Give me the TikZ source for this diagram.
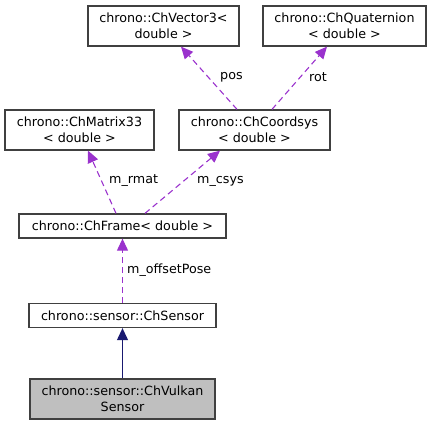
\documentclass[tikz,border=0pt]{standalone}
\usepackage{fontspec}
\setmainfont{DejaVu Sans}
\usetikzlibrary{arrows.meta}
\definecolor{member}{RGB}{154, 50, 205}
\definecolor{base}{RGB}{25, 25, 112}
\definecolor{shade}{RGB}{191, 191, 191}
\definecolor{frame}{RGB}{64, 64, 64}

\begin{document}
\begin{tikzpicture}[x=1pt, y=-1pt, font=\fontsize{12.7}{15.5}\selectfont,
    box/.style={draw=frame, line width=1.3pt, fill=white, align=center, inner sep=0pt, minimum height=40pt},
    onebox/.style={box, minimum height=24pt},
    uses/.style={member, line width=1.1pt, dash pattern=on 6pt off 4pt, -{Triangle[length=12pt, width=11pt]}},
    derives/.style={base, line width=1.1pt, -{Triangle[length=12pt, width=11pt]}},
    lbl/.style={anchor=west, inner sep=0pt}]
  \useasboundingbox (0, 0) rectangle (432, 425);

  \node[box, minimum width=151pt] (vec) at (163.5, 26) {chrono::ChVector3<\\double >};
  \node[box, minimum width=163pt] (quat) at (344.5, 26) {chrono::ChQuaternion\\< double >};
  \node[box, minimum width=149pt] (mat) at (79.5, 130) {chrono::ChMatrix33\\< double >};
  \node[box, minimum width=151pt] (csys) at (254.5, 130) {chrono::ChCoordsys\\< double >};
  \node[onebox, minimum width=207pt] (frm) at (122.5, 226) {chrono::ChFrame< double >};
  \node[onebox, minimum width=187pt] (sens) at (122.5, 315.5) {chrono::sensor::ChSensor};
  \node[box, minimum width=185pt, fill=shade] (vulk) at (122.5, 399) {chrono::sensor::ChVulkan\\Sensor};

  \draw[uses] ([xshift=-17.5pt]csys.north) -- ([xshift=17.5pt]vec.south);
  \draw[uses] ([xshift=17.5pt]csys.north) -- ([xshift=-17.5pt]quat.south);
  \draw[uses] ([xshift=-6.5pt]frm.north) -- ([xshift=8.5pt]mat.south);
  \draw[uses] ([xshift=22.5pt]frm.north) -- ([xshift=-34.5pt]csys.south);
  \draw[uses] (sens) -- (frm);
  \draw[derives] (vulk) -- (sens);

  \node[lbl] (lpos) at (220, 77) {pos};
  \node[lbl] (lrot) at (309, 77) {rot};
  \node[lbl] (lrmat) at (109, 181) {m\_rmat};
  \node[lbl] (lcsys) at (197, 181) {m\_csys};
  \node[lbl] (loff) at (127, 270) {m\_offsetPose};
\end{tikzpicture}
\end{document}
